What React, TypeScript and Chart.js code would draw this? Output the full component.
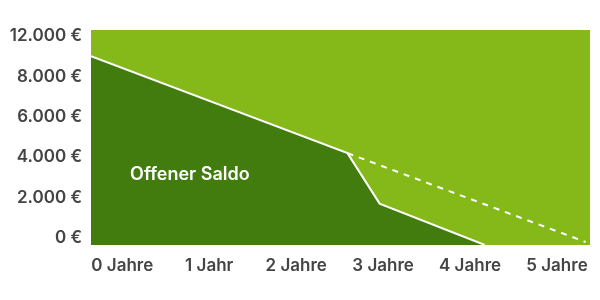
import React, { useEffect, useRef } from "react";
import { Chart, registerables } from "chart.js";

Chart.register(...registerables);

// Horizontal axis: years
const yearTicks = [0, 1, 2, 3, 4, 5];
const yearLabels = ["0 Jahre", "1 Jahr", "2 Jahre", "3 Jahre", "4 Jahre", "5 Jahre"];

// Vertical axis: balance in euro
const euroTicks = [0, 2000, 4000, 6000, 8000, 10000];
const euroLabels = ["0 €", "2.000 €", "4.000 €", "6.000 €", "8.000 €", "12.000 €"];

// Open balance with special repayment
const saldoYears = [-0.36, 2.59, 2.96, 4.17];
const saldoValues = [9000, 4200, 1700, -350];

// Regular repayment path (dashed)
const planYears = [2.59, 5.33];
const planValues = [4200, -200];

const LIGHT_GREEN = "#85b819";
const DARK_GREEN = "#427b0e";
const TEXT_GREY = "#444444";
const AXIS_FONT = { family: "Inter, 'DejaVu Sans', sans-serif", size: 17, weight: 600 as any };

const areaBackground = {
  id: "areaBackground",
  beforeDraw(chart: any) {
    const { ctx, chartArea } = chart;
    ctx.save();
    ctx.fillStyle = LIGHT_GREEN;
    ctx.fillRect(chartArea.left, chartArea.top, chartArea.right - chartArea.left, chartArea.bottom - chartArea.top);
    ctx.restore();
  },
};

const saldoLabel = {
  id: "saldoLabel",
  afterDatasetsDraw(chart: any) {
    const { ctx, scales } = chart;
    ctx.save();
    ctx.fillStyle = "#ffffff";
    ctx.font = "600 18px Inter, 'Liberation Sans', Arial, sans-serif";
    ctx.textAlign = "left";
    ctx.textBaseline = "middle";
    ctx.fillText("Offener Saldo", scales.x.getPixelForValue(0.09), scales.y.getPixelForValue(3150));
    ctx.restore();
  },
};

export default function App() {
  const canvasRef = useRef<HTMLCanvasElement | null>(null);

  useEffect(() => {
    if (!canvasRef.current) return;
    const chart = new Chart(canvasRef.current, {
      type: "line",
      data: {
        datasets: [
          {
            label: "Offener Saldo",
            data: saldoYears.map((x, i) => ({ x, y: saldoValues[i] })),
            borderColor: "#ffffff",
            borderWidth: 2,
            backgroundColor: DARK_GREEN,
            fill: "start",
            pointRadius: 0,
            tension: 0,
          },
          {
            label: "Plan",
            data: planYears.map((x, i) => ({ x, y: planValues[i] })),
            borderColor: "#ffffff",
            borderWidth: 2,
            borderDash: [6, 6],
            fill: false,
            pointRadius: 0,
            tension: 0,
          },
        ],
      },
      options: {
        animation: false,
        responsive: false,
        maintainAspectRatio: false,
        layout: { padding: { top: 30, right: 10, bottom: 0, left: 0 } },
        plugins: { legend: { display: false }, tooltip: { enabled: false } },
        scales: {
          x: {
            type: "linear",
            min: -0.36,
            max: 5.38,
            border: { display: false },
            grid: { display: false, drawTicks: false },
            afterBuildTicks(scale: any) {
              scale.ticks = yearTicks.map((v) => ({ value: v }));
            },
            afterFit(scale: any) {
              scale.height = 55;
            },
            ticks: {
              padding: 11,
              maxRotation: 0,
              autoSkip: false,
              color: TEXT_GREY,
              font: AXIS_FONT,
              callback: (v: any) => yearLabels[yearTicks.indexOf(Number(v))] ?? "",
            },
          },
          y: {
            type: "linear",
            min: -350,
            max: 10300,
            border: { display: false },
            grid: { display: false, drawTicks: false },
            afterBuildTicks(scale: any) {
              scale.ticks = euroTicks.map((v) => ({ value: v }));
            },
            afterFit(scale: any) {
              scale.width = 91;
            },
            ticks: {
              padding: 9,
              autoSkip: false,
              color: TEXT_GREY,
              font: AXIS_FONT,
              callback: (v: any) => euroLabels[euroTicks.indexOf(Number(v))] ?? "",
            },
          },
        },
      },
      plugins: [areaBackground, saldoLabel],
    });
    return () => chart.destroy();
  }, []);

  return (
    <div style={{ position: "fixed", left: 0, top: 0, width: 600, height: 300, background: "#ffffff" }}>
      <canvas ref={canvasRef} width={600} height={300} style={{ width: 600, height: 300 }} />
    </div>
  );
}
